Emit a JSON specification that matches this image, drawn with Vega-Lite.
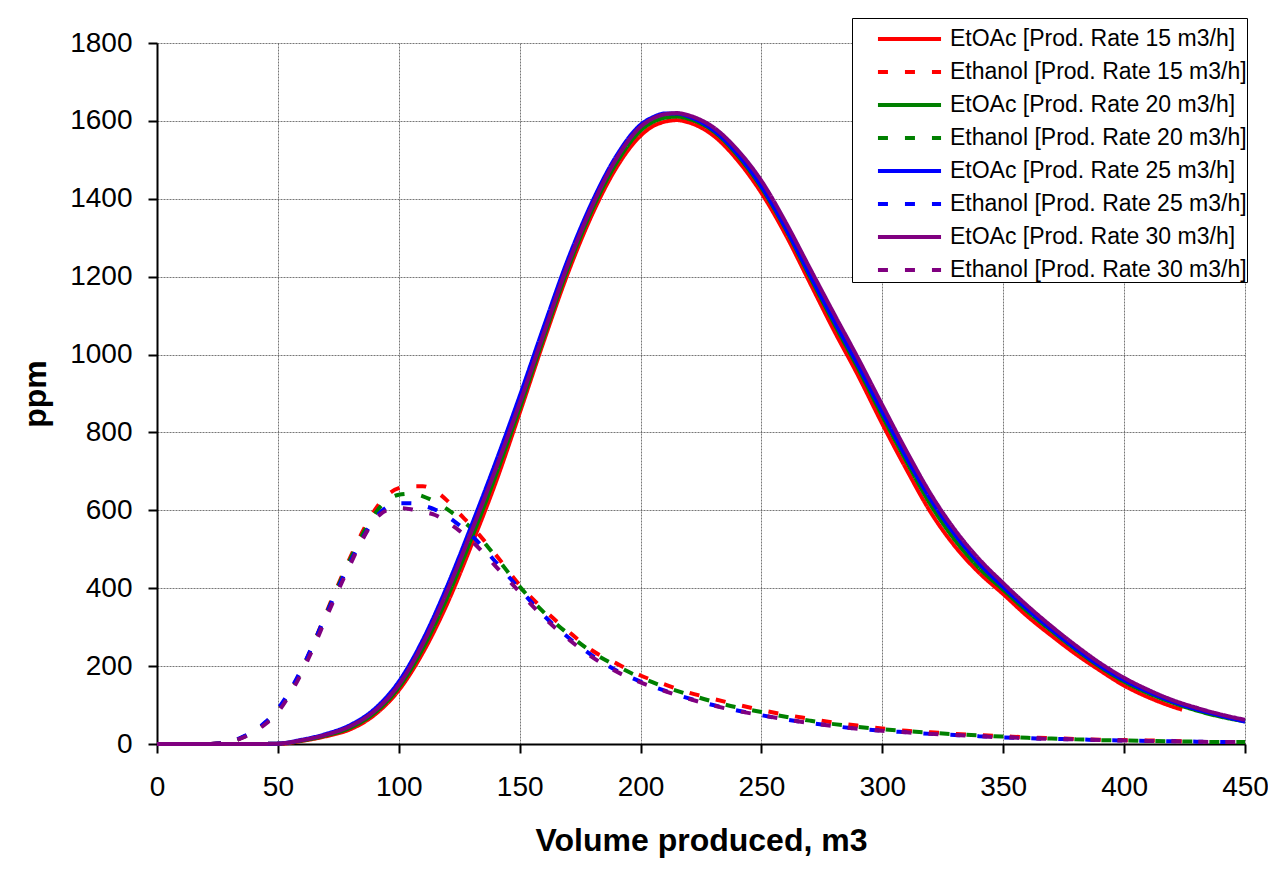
{
  "$schema": "https://vega.github.io/schema/vega-lite/v6.json",
  "width": 1088,
  "height": 701,
  "autosize": {"type": "none"},
  "padding": {"left": 157, "top": 43, "right": 23, "bottom": 129},
  "background": "white",
  "config": {
    "view": {"stroke": null},
    "font": "Liberation Sans",
    "axis": {
      "labelFont": "Liberation Sans",
      "labelFontSize": 28,
      "labelColor": "black",
      "titleFont": "Liberation Sans",
      "titleFontSize": 32,
      "titleFontWeight": "bold",
      "titleColor": "black",
      "domainColor": "black",
      "domainWidth": 2,
      "tickColor": "black",
      "tickWidth": 2,
      "tickSize": 9,
      "gridColor": "#555555",
      "gridDash": [2, 1],
      "gridWidth": 1,
      "gridOpacity": 0.8
    }
  },
  "data": {
    "values": [
      {"v": 0, "A15": 0, "E15": 0, "A20": 0, "E20": 0, "A25": 0, "E25": 0, "A30": 0, "E30": 0},
      {"v": 10, "A15": 0, "E15": 0, "A20": 0, "E20": 0, "A25": 0, "E25": 0, "A30": 0, "E30": 0},
      {"v": 20, "A15": 0, "E15": 0, "A20": 0, "E20": 0, "A25": 0, "E25": 0, "A30": 0, "E30": 0},
      {"v": 25, "A15": null, "E15": 1, "A20": null, "E20": 1, "A25": null, "E25": 1, "A30": null, "E30": 1},
      {"v": 30, "A15": 0, "E15": 5, "A20": 0, "E20": 5, "A25": 0, "E25": 6, "A30": 0, "E30": 5},
      {"v": 35, "A15": null, "E15": 16, "A20": null, "E20": 16, "A25": null, "E25": 17, "A30": null, "E30": 15},
      {"v": 40, "A15": 0, "E15": 32, "A20": 0, "E20": 32, "A25": 0, "E25": 33, "A30": 0, "E30": 30},
      {"v": 45, "A15": null, "E15": 55, "A20": null, "E20": 55, "A25": null, "E25": 57, "A30": null, "E30": 52},
      {"v": 50, "A15": 0, "E15": 87, "A20": 1, "E20": 86, "A25": 1, "E25": 90, "A30": 1, "E30": 82},
      {"v": 55, "A15": null, "E15": 135, "A20": null, "E20": 133, "A25": null, "E25": 137, "A30": null, "E30": 128},
      {"v": 60, "A15": 8, "E15": 193, "A20": 9, "E20": 191, "A25": 11, "E25": 195, "A30": 10, "E30": 185},
      {"v": 65, "A15": null, "E15": 262, "A20": null, "E20": 260, "A25": null, "E25": 262, "A30": null, "E30": 252},
      {"v": 70, "A15": 20, "E15": 337, "A20": 22, "E20": 334, "A25": 26, "E25": 333, "A30": 24, "E30": 325},
      {"v": 75, "A15": null, "E15": 410, "A20": null, "E20": 406, "A25": null, "E25": 402, "A30": null, "E30": 395},
      {"v": 80, "A15": 38, "E15": 480, "A20": 42, "E20": 475, "A25": 49, "E25": 468, "A30": 46, "E30": 462},
      {"v": 85, "A15": null, "E15": 545, "A20": null, "E20": 538, "A25": null, "E25": 528, "A30": null, "E30": 525},
      {"v": 90, "A15": 75, "E15": 600, "A20": 80, "E20": 590, "A25": 90, "E25": 578, "A30": 85, "E30": 575},
      {"v": 95, "A15": null, "E15": 638, "A20": null, "E20": 625, "A25": null, "E25": 608, "A30": null, "E30": 600},
      {"v": 100, "A15": 138, "E15": 657, "A20": 145, "E20": 640, "A25": 160, "E25": 618, "A30": 152, "E30": 606},
      {"v": 105, "A15": null, "E15": 662, "A20": null, "E20": 643, "A25": null, "E25": 618, "A30": null, "E30": 603},
      {"v": 110, "A15": 235, "E15": 662, "A20": 246, "E20": 636, "A25": 268, "E25": 612, "A30": 258, "E30": 596},
      {"v": 115, "A15": null, "E15": 650, "A20": null, "E20": 622, "A25": null, "E25": 602, "A30": null, "E30": 588},
      {"v": 120, "A15": 360, "E15": 625, "A20": 376, "E20": 603, "A25": 405, "E25": 585, "A30": 392, "E30": 570},
      {"v": 125, "A15": null, "E15": 592, "A20": null, "E20": 580, "A25": null, "E25": 562, "A30": null, "E30": 548},
      {"v": 130, "A15": 510, "E15": 560, "A20": 527, "E20": 554, "A25": 560, "E25": 536, "A30": 545, "E30": 522},
      {"v": 140, "A15": 670, "E15": 487, "A20": 688, "E20": 482, "A25": 722, "E25": 468, "A30": 705, "E30": 457},
      {"v": 150, "A15": 850, "E15": 408, "A20": 862, "E20": 404, "A25": 893, "E25": 398, "A30": 875, "E30": 390},
      {"v": 160, "A15": 1035, "E15": 345, "A20": 1045, "E20": 338, "A25": 1072, "E25": 330, "A30": 1055, "E30": 325},
      {"v": 170, "A15": 1210, "E15": 290, "A20": 1222, "E20": 283, "A25": 1245, "E25": 274, "A30": 1232, "E30": 270},
      {"v": 180, "A15": 1360, "E15": 240, "A20": 1372, "E20": 236, "A25": 1392, "E25": 227, "A30": 1382, "E30": 223},
      {"v": 190, "A15": 1480, "E15": 207, "A20": 1492, "E20": 201, "A25": 1510, "E25": 189, "A30": 1503, "E30": 186},
      {"v": 200, "A15": 1562, "E15": 176, "A20": 1575, "E20": 171, "A25": 1590, "E25": 160, "A30": 1585, "E30": 158},
      {"v": 205, "A15": 1586, "E15": null, "A20": 1597, "E20": null, "A25": 1609, "E25": null, "A30": 1606, "E30": null},
      {"v": 210, "A15": 1598, "E15": 153, "A20": 1608, "E20": 147, "A25": 1619, "E25": 137, "A30": 1617, "E30": 136},
      {"v": 215, "A15": 1602, "E15": null, "A20": 1611, "E20": null, "A25": 1619, "E25": null, "A30": 1620, "E30": null},
      {"v": 220, "A15": 1596, "E15": 132, "A20": 1605, "E20": 127, "A25": 1611, "E25": 117, "A30": 1614, "E30": 116},
      {"v": 225, "A15": 1583, "E15": null, "A20": 1593, "E20": null, "A25": 1597, "E25": null, "A30": 1602, "E30": null},
      {"v": 230, "A15": 1563, "E15": 116, "A20": 1574, "E20": 109, "A25": 1577, "E25": 100, "A30": 1584, "E30": 99},
      {"v": 240, "A15": 1500, "E15": 101, "A20": 1512, "E20": 94, "A25": 1516, "E25": 86, "A30": 1526, "E30": 85},
      {"v": 250, "A15": 1415, "E15": 87, "A20": 1428, "E20": 82, "A25": 1432, "E25": 74, "A30": 1446, "E30": 74},
      {"v": 260, "A15": 1308, "E15": 75, "A20": 1322, "E20": 70, "A25": 1325, "E25": 63, "A30": 1340, "E30": 63},
      {"v": 270, "A15": 1185, "E15": 65, "A20": 1200, "E20": 60, "A25": 1205, "E25": 54, "A30": 1222, "E30": 54},
      {"v": 280, "A15": 1062, "E15": 55, "A20": 1080, "E20": 51, "A25": 1087, "E25": 46, "A30": 1105, "E30": 46},
      {"v": 290, "A15": 946, "E15": 47, "A20": 964, "E20": 44, "A25": 972, "E25": 39, "A30": 990, "E30": 39},
      {"v": 300, "A15": 822, "E15": 40, "A20": 842, "E20": 38, "A25": 852, "E25": 34, "A30": 870, "E30": 34},
      {"v": 310, "A15": 705, "E15": 34, "A20": 725, "E20": 33, "A25": 735, "E25": 30, "A30": 752, "E30": 30},
      {"v": 320, "A15": 595, "E15": 30, "A20": 614, "E20": 29, "A25": 628, "E25": 26, "A30": 642, "E30": 26},
      {"v": 330, "A15": 508, "E15": 26, "A20": 524, "E20": 25, "A25": 538, "E25": 23, "A30": 550, "E30": 23},
      {"v": 340, "A15": 440, "E15": 23, "A20": 452, "E20": 22, "A25": 464, "E25": 20, "A30": 475, "E30": 20},
      {"v": 350, "A15": 385, "E15": 20, "A20": 396, "E20": 19, "A25": 403, "E25": 17, "A30": 413, "E30": 17},
      {"v": 360, "A15": 328, "E15": 17, "A20": 340, "E20": 16, "A25": 346, "E25": 15, "A30": 355, "E30": 15},
      {"v": 370, "A15": 278, "E15": 15, "A20": 290, "E20": 14, "A25": 294, "E25": 13, "A30": 302, "E30": 13},
      {"v": 380, "A15": 231, "E15": 13, "A20": 242, "E20": 12, "A25": 245, "E25": 12, "A30": 253, "E30": 12},
      {"v": 390, "A15": 189, "E15": 11, "A20": 198, "E20": 10, "A25": 201, "E25": 10, "A30": 208, "E30": 10},
      {"v": 400, "A15": 150, "E15": 10, "A20": 160, "E20": 9, "A25": 164, "E25": 9, "A30": 170, "E30": 9},
      {"v": 410, "A15": 120, "E15": 9, "A20": 130, "E20": 8, "A25": 134, "E25": 8, "A30": 139, "E30": 8},
      {"v": 420, "A15": 96, "E15": 8, "A20": 106, "E20": 7, "A25": 109, "E25": 7, "A30": 113, "E30": 7},
      {"v": 424, "A15": 88, "E15": 7, "A20": null, "E20": null, "A25": null, "E25": null, "A30": null, "E30": null},
      {"v": 430, "A15": null, "E15": null, "A20": 86, "E20": 6, "A25": 89, "E25": 6, "A30": 93, "E30": 6},
      {"v": 440, "A15": null, "E15": null, "A20": 70, "E20": 5, "A25": 73, "E25": 5, "A30": 76, "E30": 5},
      {"v": 450, "A15": null, "E15": null, "A20": 58, "E20": 5, "A25": 57, "E25": 5, "A30": 62, "E30": 5}
    ]
  },
  "transform": [
    {"fold": ["A15", "E15", "A20", "E20", "A25", "E25", "A30", "E30"], "as": ["series", "ppm"]},
    {"filter": "datum.ppm != null"}
  ],
  "mark": {"type": "line", "interpolate": "monotone", "strokeWidth": 4, "clip": false},
  "encoding": {
    "x": {
      "field": "v", "type": "quantitative",
      "scale": {"domain": [0, 450], "nice": false},
      "axis": {"tickCount": 9, "title": "Volume produced, m3", "labelPadding": 20, "titlePadding": 24, "labelFlush": false}
    },
    "y": {
      "field": "ppm", "type": "quantitative",
      "scale": {"domain": [0, 1800], "nice": false},
      "axis": {"tickCount": 9, "format": "d", "title": "ppm", "labelPadding": 16, "titlePadding": 17}
    },
    "color": {
      "field": "series", "type": "nominal",
      "scale": {
        "domain": ["A15", "E15", "A20", "E20", "A25", "E25", "A30", "E30"],
        "range": ["#FF0000", "#FF0000", "#008000", "#008000", "#0000FF", "#0000FF", "#800080", "#800080"]
      },
      "legend": {
        "title": null,
        "orient": "none",
        "legendX": 695,
        "legendY": -25,
        "fillColor": "white",
        "strokeColor": "black",
        "padding": 0,
        "symbolOffset": 36.5,
        "symbolType": "M-1.66,0H1.66",
        "symbolSize": 1444,
        "symbolStrokeWidth": 4,
        "labelFont": "Liberation Sans",
        "labelFontSize": 23,
        "labelColor": "black",
        "labelLimit": 400,
        "rowPadding": 0,
        "labelOffset": 19.5,
        "labelExpr": "(slice(datum.value,0,1)=='A' ? 'EtOAc' : 'Ethanol') + ' [Prod. Rate ' + slice(datum.value,1) + ' m3/h]'"
      }
    },
    "strokeDash": {
      "field": "series", "type": "nominal",
      "scale": {
        "domain": ["A15", "E15", "A20", "E20", "A25", "E25", "A30", "E30"],
        "range": [[1, 0], [10, 17], [1, 0], [10, 17], [1, 0], [10, 17], [1, 0], [10, 17]]
      },
      "legend": {
        "title": null,
        "orient": "none",
        "legendX": 695,
        "legendY": -25,
        "fillColor": "white",
        "strokeColor": "black",
        "padding": 0,
        "symbolOffset": 36.5,
        "symbolType": "M-1.66,0H1.66",
        "symbolSize": 1444,
        "symbolStrokeWidth": 4,
        "labelFont": "Liberation Sans",
        "labelFontSize": 23,
        "labelColor": "black",
        "labelLimit": 400,
        "rowPadding": 0,
        "labelOffset": 19.5,
        "labelExpr": "(slice(datum.value,0,1)=='A' ? 'EtOAc' : 'Ethanol') + ' [Prod. Rate ' + slice(datum.value,1) + ' m3/h]'"
      }
    }
  }
}
